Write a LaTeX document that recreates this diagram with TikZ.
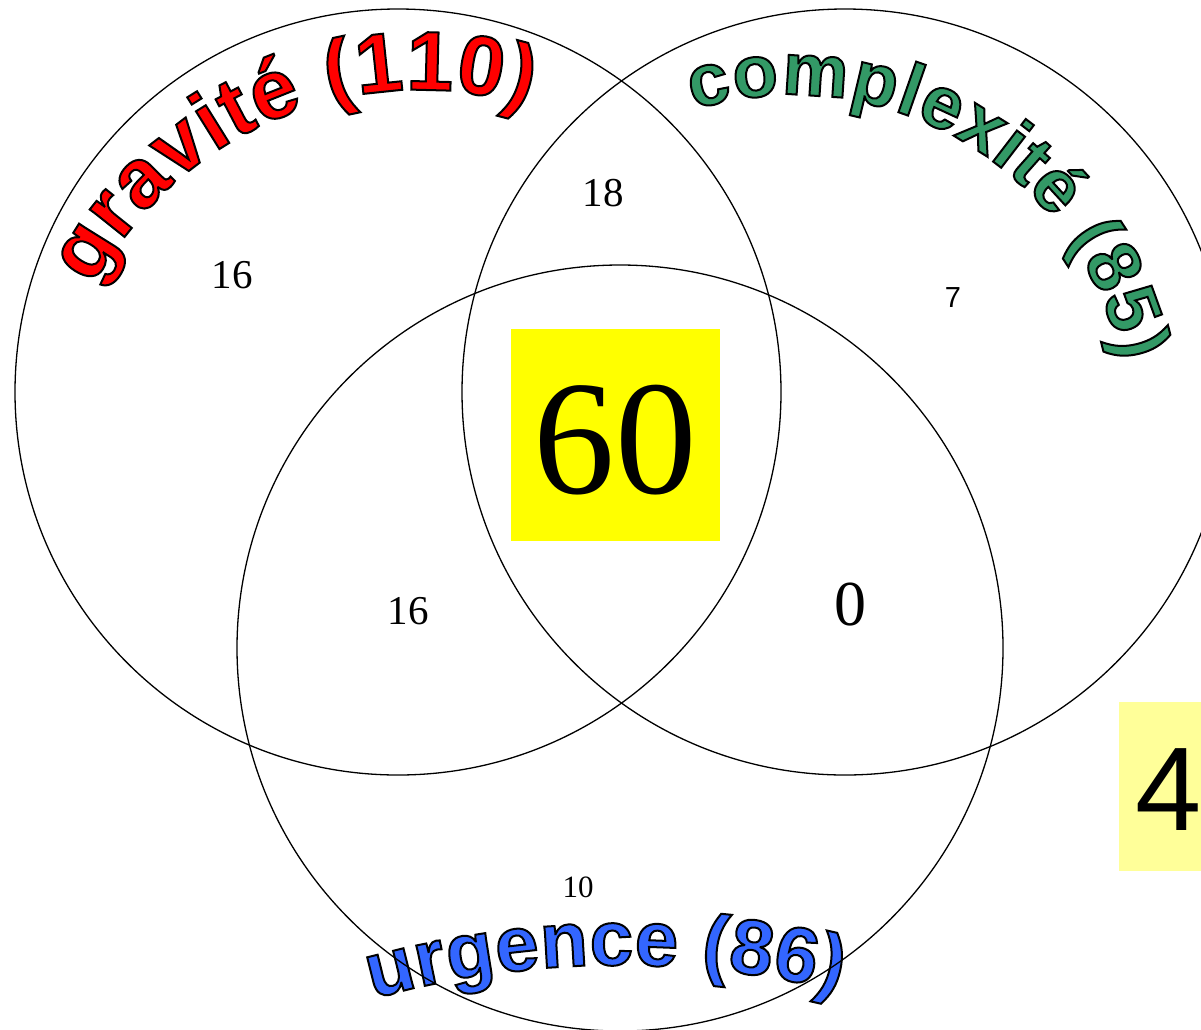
\documentclass[tikz,border=0pt]{standalone}
\usepackage{fontspec}
\setmainfont{Liberation Serif}
\newfontfamily\arialfont{Liberation Sans}
\usepackage{tikz}
\usetikzlibrary{decorations.text}
\definecolor{gravred}{HTML}{FF0000}
\definecolor{complgreen}{HTML}{339966}
\definecolor{urgblue}{HTML}{3366FF}
\definecolor{boxyellow}{HTML}{FFFF00}
\definecolor{paleyellow}{HTML}{FFFF99}
% filled letters with a thin black outline
\newcommand\wordart[2]{\arialfont\bfseries\fontsize{#1}{#1}\selectfont\color{#2}\special{pdf:literal direct 2 Tr 2 w 0 G}}
\newcommand\plainrender{\special{pdf:literal direct 0 Tr}}

\begin{document}
\begin{tikzpicture}[x=1pt, y=-1pt,
    setline/.style={draw=black, line width=1.3pt},
    count/.style={inner sep=0pt, font=\fontsize{41}{41}\selectfont}]
    \useasboundingbox (0,0) rectangle (1201,1029);
    \clip (0,0) rectangle (1201,1029);

    % Boxes behind the totals
    \fill[boxyellow] (511,329) rectangle (720,541);
    \fill[paleyellow] (1119,702) rectangle (1215,871);

    % Counts of each region
    \node[count] (nGrav) at (232,275) {16};
    \node[count] (nGravCompl) at (603,193) {18};
    \node[count] (nGravUrg) at (408,611) {16};
    \node[count, font=\fontsize{64}{64}\selectfont] (nComplUrg) at (850,605) {0};
    \node[count, font=\fontsize{31}{31}\selectfont] (nUrg) at (578,887) {10};
    \node[count, font=\arialfont\fontsize{29}{29}\selectfont] (nCompl) at (953,298) {7};
    \node[count, font=\fontsize{163}{163}\selectfont] (nAll) at (615,440) {60};
    \node[count, font=\arialfont\fontsize{119}{119}\selectfont] (nNone) at (1169,790) {4};

    % Arched titles
    \path[decorate, decoration={text along path, text align={fit to path},
        text={|\wordart{84}{gravred}|gravité (110)}}]
        ([shift={(-152:370)}]420,460) arc[start angle=-152, end angle=-73, radius=370];
    \plainrender
    \path[decorate, decoration={text along path, text align={fit to path},
        text={|\wordart{74}{complgreen}|complexité (85)}}]
        ([shift={(-107:337)}]792,432) arc[start angle=-107, end angle=-12, radius=337];
    \plainrender
    \path[decorate, decoration={text along path, text align={fit to path},
        text={|\wordart{78}{urgblue}|urgence (86)}}]
        ([shift={(-105.5:926)}]620,1891) arc[start angle=-105.5, end angle=-76.3, radius=926];
    \plainrender

    % The three sets
    \draw[setline] (398,392) circle[radius=383];
    \draw[setline] (845,392) circle[radius=383];
    \draw[setline] (620,648) circle[radius=383];
\end{tikzpicture}
\end{document}
